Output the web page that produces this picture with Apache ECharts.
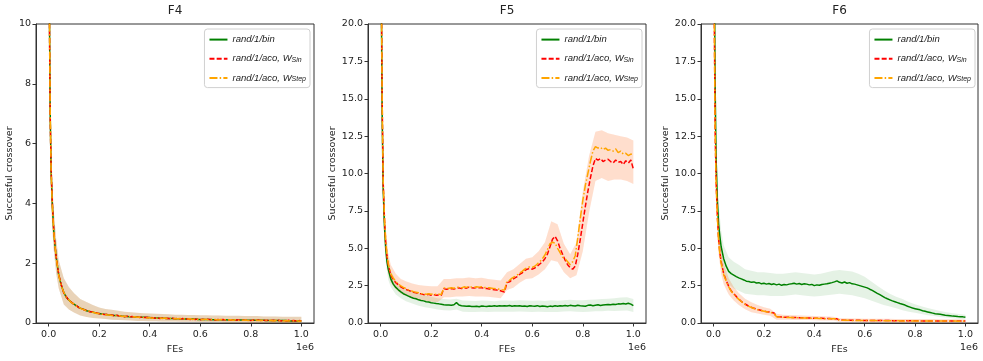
<!DOCTYPE html>
<html><head><meta charset="utf-8">
<script src="https://cdn.jsdelivr.net/npm/echarts@6/dist/echarts.min.js"></script>
<style>html,body{margin:0;padding:0;background:#fff}#c{width:983px;height:361px}</style>
</head><body><div id="c"></div>
<script>
// ---------- DATA ----------
const xs = [0,0.003,0.006,0.01,0.015,0.02,0.025,0.03,
0.04,0.05,0.06,0.07,0.08,0.09,
0.10,0.11,0.12,0.13,0.14,0.15,0.16,0.17,0.18,0.19,
0.20,0.21,0.22,0.23,0.24,0.25,0.26,0.27,0.28,0.29,
0.30,0.31,0.32,0.33,0.34,0.35,0.36,0.37,0.38,0.39,
0.40,0.41,0.42,0.43,0.44,0.45,0.46,0.47,0.48,0.49,
0.50,0.51,0.52,0.53,0.54,0.55,0.56,0.57,0.58,0.59,
0.60,0.61,0.62,0.63,0.64,0.65,0.66,0.67,0.68,0.69,
0.70,0.71,0.72,0.73,0.74,0.75,0.76,0.77,0.78,0.79,
0.80,0.81,0.82,0.83,0.84,0.85,0.86,0.87,0.88,0.89,
0.90,0.91,0.92,0.93,0.94,0.95,0.96,0.97,0.98,0.99,1.00];

const bx = [0,0.003,0.006,0.01,0.015,0.02,0.03,0.04,0.06,0.08,0.1,
0.125,0.15,0.175,0.2,0.225,0.25,0.275,0.3,0.325,0.35,0.375,0.4,0.425,0.45,0.475,
0.5,0.525,0.55,0.575,0.6,0.625,0.65,0.675,0.7,0.725,0.75,0.775,0.8,0.825,0.85,0.875,0.9,0.925,0.95,0.975,1.0];

// F4
const f4Bin = [30,10.6,7.1,5.0,3.9,3.1,2.6,2.2,
1.6,1.26,1.02,0.86,0.77,0.69,
0.63,0.57,0.52,0.48,0.45,0.41,0.39,0.37,0.35,0.33,
0.32,0.3,0.29,0.28,0.27,0.26,0.25,0.25,0.24,0.23,
0.22,0.22,0.21,0.21,0.2,0.2,0.19,0.19,0.19,0.18,
0.18,0.17,0.17,0.17,0.16,0.16,0.16,0.15,0.15,0.15,
0.14,0.14,0.14,0.14,0.13,0.13,0.13,0.13,0.13,0.12,
0.12,0.12,0.12,0.12,0.12,0.11,0.11,0.11,0.11,0.11,
0.11,0.1,0.1,0.1,0.1,0.1,0.1,0.1,0.09,0.09,
0.09,0.09,0.09,0.09,0.09,0.09,0.08,0.08,0.08,0.08,
0.08,0.08,0.08,0.08,0.08,0.07,0.07,0.07,0.07,0.07,0.07];
const f4Sin = [30,10.4,7.0,5.1,3.95,3.15,2.62,2.2,
1.62,1.28,1.0,0.88,0.75,0.7,
0.62,0.58,0.51,0.49,0.44,0.42,0.38,0.38,0.34,0.34,
0.31,0.31,0.28,0.29,0.26,0.27,0.24,0.26,0.23,0.24,
0.21,0.23,0.2,0.22,0.19,0.21,0.18,0.2,0.18,0.19,
0.17,0.18,0.16,0.18,0.15,0.17,0.15,0.16,0.14,0.16,
0.14,0.15,0.13,0.15,0.12,0.14,0.12,0.14,0.12,0.13,
0.11,0.13,0.11,0.13,0.11,0.12,0.1,0.12,0.1,0.12,
0.1,0.11,0.09,0.11,0.09,0.11,0.09,0.1,0.09,0.1,
0.08,0.1,0.08,0.1,0.08,0.09,0.08,0.09,0.08,0.09,
0.07,0.09,0.07,0.09,0.07,0.09,0.07,0.08,0.07,0.08,0.07];
const f4Step = [30,10.7,7.2,5.0,3.85,3.1,2.58,2.18,
1.58,1.24,1.03,0.85,0.78,0.68,
0.64,0.56,0.53,0.47,0.45,0.4,0.4,0.36,0.35,0.32,
0.32,0.29,0.3,0.27,0.27,0.25,0.26,0.24,0.24,0.22,
0.23,0.21,0.22,0.2,0.21,0.19,0.2,0.18,0.19,0.17,
0.18,0.16,0.18,0.16,0.17,0.15,0.17,0.15,0.16,0.14,
0.15,0.14,0.15,0.13,0.14,0.13,0.14,0.12,0.14,0.12,
0.13,0.11,0.13,0.11,0.12,0.11,0.12,0.1,0.12,0.1,
0.11,0.1,0.11,0.09,0.11,0.09,0.1,0.09,0.1,0.08,
0.1,0.08,0.1,0.08,0.09,0.08,0.09,0.07,0.09,0.07,
0.09,0.07,0.09,0.07,0.08,0.07,0.08,0.07,0.08,0.06,0.07];
const f4Hi = [40,12.5,8.5,6.0,4.7,3.8,2.8,2.1,1.5,1.2,1.0,
0.8,0.7,0.6,0.52,0.47,0.44,0.41,0.38,0.36,0.34,0.33,0.32,0.31,0.3,0.29,
0.28,0.28,0.27,0.27,0.26,0.26,0.25,0.25,0.24,0.24,0.24,0.23,0.23,0.23,0.22,0.22,0.22,0.21,0.21,0.21,0.21];
const f4Lo = [20,8.8,5.8,4.0,3.1,2.45,1.65,1.15,0.62,0.45,0.35,
0.25,0.2,0.17,0.15,0.13,0.11,0.1,0.09,0.08,0.07,0.07,0.06,0.06,0.05,0.05,
0.05,0.04,0.04,0.04,0.03,0.03,0.03,0.03,0.02,0.02,0.02,0.02,0.01,0.01,0.01,0.01,0.01,0,0,0,0];

// F5
const f5Bin = [60,21,14,9.0,6.5,5.0,4.1,3.6,
2.95,2.6,2.38,2.22,2.08,1.96,
1.88,1.8,1.72,1.66,1.62,1.55,1.5,1.48,1.42,1.4,
1.36,1.33,1.3,1.28,1.25,1.22,1.21,1.2,1.19,1.22,
1.36,1.2,1.16,1.14,1.12,1.14,1.11,1.1,1.12,1.09,
1.14,1.12,1.11,1.13,1.12,1.15,1.12,1.16,1.14,1.15,
1.14,1.17,1.12,1.15,1.13,1.16,1.12,1.14,1.1,1.15,
1.13,1.12,1.16,1.1,1.14,1.12,1.09,1.13,1.11,1.15,
1.12,1.16,1.14,1.17,1.14,1.18,1.16,1.14,1.19,1.15,
1.14,1.12,1.18,1.2,1.16,1.19,1.22,1.17,1.2,1.22,
1.24,1.22,1.26,1.24,1.28,1.27,1.3,1.27,1.32,1.26,1.16];
const f5Sin = [60,22,15,9.5,7.0,5.4,4.5,3.9,
3.2,2.9,2.7,2.55,2.42,2.32,
2.25,2.18,2.12,2.06,2.02,1.98,1.95,1.9,1.88,1.92,
1.86,1.9,1.85,1.88,1.86,2.3,2.25,2.28,2.3,2.27,
2.32,2.35,2.3,2.36,2.33,2.4,2.36,2.34,2.38,2.35,
2.36,2.32,2.3,2.28,2.26,2.22,2.2,2.18,2.12,2.08,
2.7,2.75,2.9,3.0,3.1,3.25,3.35,3.5,3.6,3.65,
3.6,3.68,3.8,3.95,4.1,4.3,4.6,5.1,5.6,5.8,
5.5,5.0,4.6,4.2,3.9,3.7,3.6,3.8,4.6,5.6,
6.7,7.8,8.8,9.7,10.5,11.0,10.9,11.0,10.8,10.9,
10.95,10.8,10.7,10.9,10.75,10.8,10.6,10.85,10.7,10.9,10.3];
const f5Step = [60,22,15,9.6,7.1,5.5,4.6,4.0,
3.3,3.0,2.78,2.6,2.48,2.38,
2.3,2.22,2.16,2.1,2.05,2.02,1.98,1.95,1.93,1.95,
1.92,1.95,1.9,1.93,1.9,2.35,2.3,2.33,2.36,2.32,
2.38,2.4,2.35,2.42,2.38,2.45,2.4,2.38,2.43,2.4,
2.42,2.38,2.36,2.35,2.33,2.3,2.28,2.26,2.22,2.2,
2.8,2.85,3.0,3.1,3.2,3.35,3.45,3.6,3.7,3.75,
3.72,3.8,3.95,4.1,4.3,4.55,4.9,5.3,5.4,5.35,
5.0,4.7,4.4,4.3,4.1,3.9,4.1,4.5,5.7,7.0,
8.2,9.2,10.0,10.8,11.5,11.8,11.7,11.75,11.6,11.7,
11.55,11.6,11.5,11.65,11.4,11.5,11.3,11.35,11.2,11.3,11.25];
const f5BinHi = [70,24,16,10.5,7.6,5.9,4.3,3.5,2.85,2.5,2.3,
2.1,1.95,1.85,1.75,1.65,1.6,1.58,1.62,1.5,1.48,1.47,1.5,1.48,1.46,1.5,
1.5,1.48,1.52,1.5,1.48,1.5,1.47,1.52,1.48,1.52,1.55,1.52,1.52,1.55,1.58,1.6,1.62,1.65,1.7,1.72,1.6];
const f5BinLo = [50,18,12,7.6,5.4,4.1,2.9,2.4,1.9,1.65,1.45,
1.3,1.15,1.05,0.98,0.9,0.86,0.84,0.9,0.76,0.74,0.74,0.76,0.74,0.75,0.76,
0.75,0.76,0.77,0.75,0.74,0.76,0.74,0.74,0.73,0.77,0.78,0.76,0.74,0.75,0.78,0.78,0.82,0.8,0.82,0.84,0.74];
const f5AcoHi = [70,26,17.5,11.2,8.3,6.4,4.7,3.9,3.3,2.95,2.8,
2.65,2.55,2.5,2.45,2.45,2.95,2.95,3.0,3.0,3.05,3.0,3.02,2.95,2.9,2.85,
3.4,3.6,3.95,4.3,4.4,4.8,5.4,6.8,6.6,5.3,4.6,5.4,8.8,11.2,12.8,12.9,12.7,12.6,12.5,12.4,12.2];
const f5AcoLo = [50,18.5,12.5,8.0,5.9,4.6,3.3,2.7,2.25,1.95,1.8,
1.68,1.58,1.48,1.42,1.38,1.72,1.72,1.78,1.78,1.8,1.78,1.78,1.75,1.7,1.65,
2.2,2.35,2.7,2.95,3.0,3.25,3.6,4.2,4.1,3.4,3.0,3.2,4.8,7.4,9.5,9.7,9.5,9.6,9.6,9.5,9.3];

// F6
const f6Bin = [60,24,16,11,8.2,6.6,5.8,5.1,
4.3,3.8,3.45,3.3,3.2,3.1,
3.02,2.95,2.88,2.8,2.78,2.72,2.75,2.68,2.7,2.62,
2.66,2.6,2.64,2.58,2.62,2.55,2.6,2.52,2.58,2.55,
2.6,2.62,2.66,2.6,2.64,2.58,2.62,2.6,2.55,2.58,
2.5,2.55,2.52,2.58,2.6,2.62,2.66,2.7,2.75,2.82,
2.72,2.68,2.74,2.66,2.7,2.62,2.6,2.55,2.5,2.45,
2.4,2.35,2.26,2.18,2.08,1.98,1.9,1.8,1.7,1.62,
1.55,1.48,1.42,1.36,1.3,1.25,1.2,1.12,1.06,1.0,
0.96,0.92,0.88,0.82,0.78,0.74,0.7,0.66,0.62,0.6,
0.58,0.55,0.52,0.5,0.48,0.46,0.45,0.43,0.42,0.41,0.38];
const f6Sin = [60,20,13,9.5,7.2,5.6,4.7,4.1,
3.3,2.85,2.45,2.15,1.95,1.78,
1.6,1.45,1.32,1.22,1.12,1.05,0.98,0.94,0.88,0.84,
0.8,0.76,0.74,0.7,0.67,0.42,0.41,0.4,0.39,0.38,
0.38,0.37,0.36,0.36,0.35,0.35,0.34,0.34,0.33,0.33,
0.32,0.32,0.31,0.31,0.3,0.3,0.3,0.29,0.29,0.28,
0.2,0.2,0.19,0.19,0.19,0.18,0.18,0.18,0.18,0.17,
0.17,0.17,0.17,0.17,0.16,0.16,0.16,0.16,0.16,0.16,
0.16,0.15,0.15,0.15,0.15,0.15,0.15,0.15,0.15,0.15,
0.15,0.15,0.14,0.14,0.14,0.14,0.14,0.14,0.14,0.14,
0.14,0.14,0.14,0.14,0.13,0.13,0.13,0.13,0.13,0.13,0.13];
const f6Step = [60,20,13,9.4,7.1,5.5,4.6,4.0,
3.25,2.8,2.42,2.12,1.92,1.75,
1.58,1.44,1.3,1.2,1.11,1.04,0.97,0.92,0.87,0.83,
0.79,0.75,0.72,0.69,0.66,0.41,0.4,0.39,0.38,0.37,
0.37,0.36,0.35,0.35,0.34,0.34,0.33,0.33,0.32,0.32,
0.31,0.31,0.3,0.3,0.29,0.29,0.29,0.28,0.28,0.27,
0.19,0.19,0.18,0.18,0.18,0.17,0.17,0.17,0.17,0.16,
0.16,0.16,0.17,0.16,0.16,0.15,0.16,0.16,0.15,0.15,
0.15,0.15,0.14,0.15,0.15,0.14,0.14,0.15,0.14,0.14,
0.14,0.14,0.14,0.13,0.14,0.14,0.13,0.13,0.14,0.13,
0.13,0.13,0.13,0.13,0.12,0.13,0.13,0.12,0.12,0.13,0.12];
const f6BinHi = [70,28,19,13,9.8,8.0,6.2,5.2,4.4,4.1,3.9,
3.6,3.5,3.4,3.4,3.35,3.3,3.3,3.35,3.4,3.35,3.3,3.25,3.3,3.4,3.5,
3.55,3.5,3.45,3.3,3.1,2.8,2.5,2.2,1.95,1.75,1.6,1.4,1.25,1.12,1.0,0.9,0.8,0.72,0.66,0.6,0.55];
const f6BinLo = [50,20,13,9,6.6,5.2,4.0,3.4,2.6,2.3,2.15,
1.95,1.9,1.85,1.85,1.8,1.8,1.8,1.85,1.9,1.85,1.8,1.78,1.8,1.85,1.9,
1.95,1.9,1.85,1.75,1.65,1.5,1.35,1.2,1.1,0.98,0.86,0.76,0.68,0.6,0.52,0.46,0.4,0.36,0.32,0.28,0.25];
const f6AcoHi = [70,24,15.5,11.2,8.5,6.6,4.9,4.0,3.0,2.4,2.0,
1.62,1.38,1.2,1.05,0.95,0.62,0.56,0.54,0.52,0.5,0.48,0.46,0.45,0.44,0.42,
0.32,0.31,0.3,0.3,0.29,0.29,0.28,0.28,0.28,0.27,0.27,0.27,0.26,0.26,0.26,0.26,0.25,0.25,0.25,0.25,0.24];
const f6AcoLo = [50,16,10.5,7.8,5.9,4.6,3.3,2.6,1.9,1.5,1.2,
0.92,0.72,0.64,0.55,0.49,0.22,0.22,0.22,0.2,0.2,0.2,0.18,0.17,0.16,0.16,
0.08,0.07,0.06,0.06,0.05,0.05,0.05,0.05,0.05,0.04,0.04,0.04,0.04,0.04,0.03,0.03,0.03,0.03,0.03,0.03,0.03];

const titles = ['F4', 'F5', 'F6'];
const seriesNames = ['rand/1/bin', 'rand/1/aco, W_Sin', 'rand/1/aco, W_Step'];
const xTicks = [0, 0.2, 0.4, 0.6, 0.8, 1.0];
const yName = 'Succesful crossover';
const xName = 'FEs';
const xOffsetText = '1e6';

// ---------- LAYOUT / STYLE ----------
const FONT = 'DejaVu Sans';
const LFONT = 'Liberation Sans';
const colors = ['#008000', '#ff0000', '#ffa500'];
const dashes = ['solid', [5, 2.2], [8, 2.2, 1.5, 2.2]];
const grids = [
  {left: 36, top: 24, width: 278, height: 299},
  {left: 368, top: 24, width: 278, height: 299},
  {left: 701, top: 24, width: 277, height: 299}
];
const yNameGaps = [19, 25, 25];
const legendRight = [673, 341, 8];

const panels = [
  {lines: [f4Bin, f4Sin, f4Step], bands: [[f4Lo, f4Hi, 0], [f4Lo, f4Hi, 1], [f4Lo, f4Hi, 2]], ymax: 10, yint: 2, ydec: 0},
  {lines: [f5Bin, f5Sin, f5Step], bands: [[f5BinLo, f5BinHi, 0], [f5AcoLo, f5AcoHi, 1], [f5AcoLo, f5AcoHi, 2]], ymax: 20, yint: 2.5, ydec: 1},
  {lines: [f6Bin, f6Sin, f6Step], bands: [[f6BinLo, f6BinHi, 0], [f6AcoLo, f6AcoHi, 1], [f6AcoLo, f6AcoHi, 2]], ymax: 20, yint: 2.5, ydec: 1}
];

panels.forEach((p, i) => {
  p.lines.forEach(a => { if (a.length !== xs.length) throw new Error('line len ' + i + ' ' + a.length); });
  p.bands.forEach(b => { if (b[0].length !== bx.length || b[1].length !== bx.length) throw new Error('band len ' + i + ' ' + b[0].length + ' ' + b[1].length); });
});

function bandRenderer(color) {
  return function (params, api) {
    if (params.dataIndexInside !== 0) return null;
    const n = params.dataInsideLength;
    const top = [], bot = [];
    for (let k = 0; k < n; k++) {
      const x = api.value(0, k);
      top.push(api.coord([x, api.value(2, k)]));
      bot.push(api.coord([x, api.value(1, k)]));
    }
    return {type: 'polygon', shape: {points: top.concat(bot.reverse())},
      style: {fill: color, opacity: 0.1, stroke: null}, silent: true};
  };
}

const txt = {fontFamily: FONT, fontSize: 9.5, color: '#222'};
const option = {animation: false, backgroundColor: '#fff', grid: [], xAxis: [], yAxis: [], series: [], legend: [], title: [], graphic: []};

panels.forEach((p, i) => {
  const g = grids[i];
  option.grid.push(Object.assign({show: true, borderColor: '#333', borderWidth: 1, backgroundColor: 'transparent'}, g));
  option.title.push({text: titles[i], left: g.left + g.width / 2, top: 5, padding: 0, textAlign: 'center',
    textStyle: {fontFamily: FONT, fontSize: 12, fontWeight: 'normal', color: '#222'}});
  option.xAxis.push({type: 'value', gridIndex: i, min: -0.05, max: 1.05,
    name: xName, nameLocation: 'middle', nameGap: 20, nameTextStyle: txt,
    axisLine: {show: true, onZero: false, lineStyle: {color: '#333', width: 1}},
    axisTick: {show: true, length: 3.5, customValues: xTicks, lineStyle: {color: '#333'}},
    axisLabel: Object.assign({customValues: xTicks, margin: 7, formatter: v => Number(v).toFixed(1)}, txt),
    splitLine: {show: false}});
  option.yAxis.push({type: 'value', gridIndex: i, min: 0, max: p.ymax, interval: p.yint,
    name: yName, nameLocation: 'middle', nameGap: yNameGaps[i], nameRotate: 90, nameTextStyle: txt,
    axisLine: {show: true, onZero: false, lineStyle: {color: '#333', width: 1}},
    axisTick: {show: true, length: 3.5, lineStyle: {color: '#333'}},
    axisLabel: Object.assign({margin: 5, formatter: v => Number(v).toFixed(p.ydec)}, txt),
    splitLine: {show: false}});
  p.bands.forEach(([lo, hi, c]) => {
    option.series.push({type: 'custom', xAxisIndex: i, yAxisIndex: i, silent: true, z: 1, clip: true,
      encode: {x: 0, y: [1, 2]}, renderItem: bandRenderer(colors[c]),
      data: bx.map((x, k) => [x, lo[k], hi[k]])});
  });
  p.lines.forEach((arr, j) => {
    option.series.push({type: 'line', name: seriesNames[j], xAxisIndex: i, yAxisIndex: i, symbol: 'none', z: 3 + j,
      lineStyle: {color: colors[j], width: 1.5, type: dashes[j]}, itemStyle: {color: colors[j]},
      data: xs.map((x, k) => [x, arr[k]])});
  });
  option.legend.push({data: seriesNames, orient: 'vertical', right: legendRight[i], top: 29, selectedMode: false,
    itemWidth: 18, itemHeight: 14, itemGap: 8, padding: [5, 4, 4, 4],
    itemStyle: {opacity: 0},
    borderColor: '#d0d0d0', borderWidth: 1, borderRadius: 3, backgroundColor: 'rgba(255,255,255,0.85)',
    formatter: function (name) {
      const parts = name.split('_');
      return parts.length > 1 ? '{i|' + parts[0] + '}{s|' + parts[1] + '}' : '{i|' + name + '}';
    },
    textStyle: {fontFamily: LFONT, fontSize: 9, color: '#222',
      rich: {i: {fontFamily: LFONT, fontSize: 9.5, fontStyle: 'italic', color: '#222'},
             s: {fontFamily: LFONT, fontSize: 7, fontStyle: 'italic', color: '#222', verticalAlign: 'bottom', padding: [3, 0, 0, 0]}}}});
  option.graphic.push({type: 'text', x: g.left + g.width, y: 343,
    style: {text: xOffsetText, align: 'right', verticalAlign: 'top', font: '9.5px "DejaVu Sans"', fill: '#222'}});
});

const chart = echarts.init(document.getElementById('c'), null, {renderer: 'canvas'});
chart.setOption(option);
</script>
</body></html>
